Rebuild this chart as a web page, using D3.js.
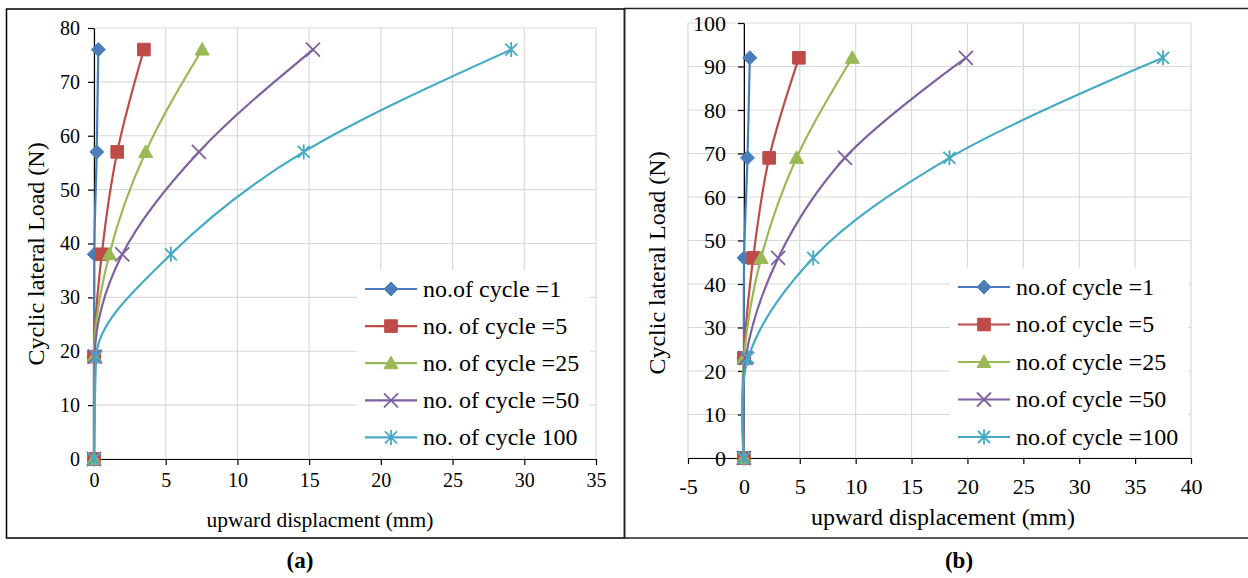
<!DOCTYPE html>
<html>
<head>
<meta charset="utf-8">
<script src="https://cdn.jsdelivr.net/npm/d3@7"></script>
<style>
  body { margin: 0; background: #fff; }
  svg { display: block; }
</style>
</head>
<body>
<svg id="chart" width="1248" height="578"></svg>
<script>
var SERIF = 'Liberation Serif';

// Series labels
var namesA = ['no.of cycle =1', 'no. of cycle =5', 'no. of cycle =25', 'no. of cycle =50', 'no. of cycle 100'];
var namesB = ['no.of cycle =1', 'no.of cycle =5', 'no.of cycle =25', 'no.of cycle =50', 'no.of cycle =100'];

// Panel (a): load (N) and upward displacement (mm) per cycle count
var loadA = [0, 19, 38, 57, 76];
var cyc1A = [0, 0, 0.02, 0.19, 0.3];
var cyc5A = [0, 0, 0.54, 1.62, 3.48];
var cyc25A = [0, 0, 1.07, 3.6, 7.54];
var cyc50A = [0, 0.05, 1.97, 7.31, 15.27];
var cyc100A = [0, 0.15, 5.36, 14.62, 29.09];

// Panel (b)
var loadB = [0, 23, 46, 69, 92];
var cyc1B = [0, 0, 0.02, 0.32, 0.53];
var cyc5B = [0, 0, 0.83, 2.26, 4.92];
var cyc25B = [0, 0, 1.54, 4.71, 9.7];
var cyc50B = [0, 0.15, 3.07, 9.04, 19.86];
var cyc100B = [0, 0.38, 6.2, 18.39, 37.5];

var xTicksA = [0, 5, 10, 15, 20, 25, 30, 35];
var yTicksA = [0, 10, 20, 30, 40, 50, 60, 70, 80];
var xTicksB = [-5, 0, 5, 10, 15, 20, 25, 30, 35, 40];
var yTicksB = [0, 10, 20, 30, 40, 50, 60, 70, 80, 90, 100];

var colors = ['#4A7EBB', '#BE4B48', '#98B954', '#7D60A0', '#46AAC5'];
var markers = ['diamond', 'square', 'triangle', 'x', 'star'];

var svg = d3.select('#chart').attr('font-family', SERIF);

// outer frames
svg.append('rect').attr('x', 6.5).attr('y', 9).attr('width', 618).attr('height', 529)
    .attr('fill', 'none').attr('stroke', '#000').attr('stroke-width', 1.5);
svg.append('path').attr('d', 'M624.5,538 V8.5 H1248 M624.5,538 H1248')
    .attr('fill', 'none').attr('stroke', '#222').attr('stroke-width', 1.5);

function markerPath(type) {
  if (type === 'diamond') return 'M0,-7L7,0L0,7L-7,0Z';
  if (type === 'square') return 'M-6.3,-6.3H6.3V6.3H-6.3Z';
  if (type === 'triangle') return 'M0,-7L7,5.5H-7Z';
  if (type === 'x') return 'M-7,-7L7,7M-7,7L7,-7';
  return 'M-6,-6L6,6M-6,6L6,-6M0,-7.5L0,7.5';
}

function drawMarker(g, type, color, x, y) {
  var filled = (type === 'diamond' || type === 'square' || type === 'triangle');
  g.append('path')
    .attr('transform', 'translate(' + x + ',' + y + ')')
    .attr('d', markerPath(type))
    .attr('fill', filled ? color : 'none')
    .attr('stroke', color)
    .attr('stroke-width', filled ? 1 : 1.8);
}

function drawPanel(p) {
  var x = d3.scaleLinear().domain(p.xDomain).range([p.left, p.right]);
  var y = d3.scaleLinear().domain(p.yDomain).range([p.bottom, p.top]);
  var g = svg.append('g');

  // gridlines
  g.append('g').selectAll('line').data(p.xTicks).join('line')
    .attr('x1', function(d) { return x(d); }).attr('x2', function(d) { return x(d); })
    .attr('y1', p.top).attr('y2', p.bottom)
    .attr('stroke', '#D9D9D9').attr('stroke-width', 1.2);
  g.append('g').selectAll('line').data(p.yTicks).join('line')
    .attr('x1', p.left).attr('x2', p.right)
    .attr('y1', function(d) { return y(d); }).attr('y2', function(d) { return y(d); })
    .attr('stroke', '#D9D9D9').attr('stroke-width', 1.2);

  // axes
  var xAxis = g.append('g').attr('transform', 'translate(0,' + y(0) + ')')
    .call(d3.axisBottom(x).tickValues(p.xTicks).tickSize(6).tickPadding(p.xPad).tickSizeOuter(0));
  var yAxis = g.append('g').attr('transform', 'translate(' + x(0) + ',0)')
    .call(d3.axisLeft(y).tickValues(p.yTicks).tickSize(6).tickPadding(p.yPad).tickSizeOuter(0));
  [xAxis, yAxis].forEach(function(a) {
    a.attr('font-family', SERIF).attr('font-size', p.tickFont);
    a.selectAll('text').attr('fill', '#000');
    a.selectAll('line, path').attr('stroke', '#000').attr('stroke-width', 1.2);
  });
  xAxis.selectAll('text').text(function(d) { return d < 0 ? '-' + Math.abs(d) : d; });

  // series (smoothed like the spreadsheet lines)
  var line = d3.line()
    .x(function(d) { return x(d[0]); })
    .y(function(d) { return y(d[1]); })
    .curve(p.curve);

  p.series.forEach(function(s, i) {
    var pts = s.map(function(v, j) { return [v, p.load[j]]; });
    g.append('path').datum(pts)
      .attr('fill', 'none').attr('stroke', colors[i]).attr('stroke-width', 2.2)
      .attr('d', line);
    pts.forEach(function(pt) {
      drawMarker(g, markers[i], colors[i], x(pt[0]), y(pt[1]));
    });
  });

  // legend
  var lg = g.append('g');
  lg.append('rect').attr('x', p.legX).attr('y', p.legY).attr('width', p.legW).attr('height', p.legH)
    .attr('fill', '#fff');
  p.names.forEach(function(n, i) {
    var cy = p.legRow0 + i * p.legStep;
    lg.append('line').attr('x1', p.legLine).attr('x2', p.legLine + 52).attr('y1', cy).attr('y2', cy)
      .attr('stroke', colors[i]).attr('stroke-width', 2.2);
    drawMarker(lg, markers[i], colors[i], p.legLine + 26, cy);
    lg.append('text').attr('x', p.legLine + 58).attr('y', cy).attr('dy', '0.32em')
      .attr('font-family', SERIF).attr('font-size', p.legFont).text(n);
  });

  // titles
  g.append('text').attr('x', p.xTitleX).attr('y', p.xTitleY).attr('text-anchor', 'middle')
    .attr('font-family', SERIF).attr('font-size', p.xTitleFont).text(p.xTitle);
  g.append('text').attr('transform', 'translate(' + p.yTitleX + ',' + p.yTitleY + ') rotate(-90)')
    .attr('text-anchor', 'middle').attr('font-family', SERIF).attr('font-size', 24)
    .text('Cyclic lateral Load (N)');
  g.append('text').attr('x', p.capX).attr('y', 568).attr('text-anchor', 'middle')
    .attr('font-family', SERIF).attr('font-size', 23).attr('font-weight', 'bold').text(p.caption);
}

drawPanel({
  xDomain: [0, 35], yDomain: [0, 80], left: 94, right: 596, top: 28, bottom: 459,
  xTicks: xTicksA, yTicks: yTicksA, xPad: 8, yPad: 8, tickFont: 20,
  load: loadA, series: [cyc1A, cyc5A, cyc25A, cyc50A, cyc100A], names: namesA,
  curve: d3.curveMonotoneY,
  legX: 357, legY: 270, legW: 233, legH: 186, legRow0: 289, legStep: 37.1, legLine: 365, legFont: 24,
  xTitle: 'upward displacment (mm)', xTitleX: 320, xTitleY: 527, xTitleFont: 21.5,
  yTitleX: 44, yTitleY: 254, capX: 300, caption: '(a)'
});

drawPanel({
  xDomain: [-5, 40], yDomain: [0, 100], left: 688, right: 1191, top: 23, bottom: 458,
  xTicks: xTicksB, yTicks: yTicksB, xPad: 14, yPad: 12, tickFont: 22,
  load: loadB, series: [cyc1B, cyc5B, cyc25B, cyc50B, cyc100B], names: namesB,
  curve: d3.curveCatmullRom.alpha(0.5),
  legX: 950, legY: 268, legW: 238, legH: 188, legRow0: 287, legStep: 37.5, legLine: 958, legFont: 24,
  xTitle: 'upward displacement (mm)', xTitleX: 943, xTitleY: 525, xTitleFont: 24,
  yTitleX: 665, yTitleY: 263, capX: 959, caption: '(b)'
});
</script>
</body>
</html>
